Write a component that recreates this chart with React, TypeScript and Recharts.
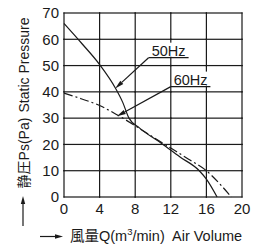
import { LineChart, Line, XAxis, YAxis, ReferenceLine } from 'recharts'

// air volume (m3/min) vs static pressure (Pa)
const flow50 = [0, 2, 4, 5.8, 6.6, 7.3, 8.5, 11, 13, 15.2, 16, 17.2]
const pressure50 = [66, 58.4, 50.4, 41.3, 36, 30, 26.2, 20.3, 15.3, 10, 6.8, 0]
const flow60 = [0, 2, 4, 6, 8, 10, 12, 14, 16, 17.5, 18.8]
const pressure60 = [39.5, 37.3, 34.8, 31.2, 27.1, 22.8, 18.6, 14.4, 10, 5, 0]

const xTicks = [0, 4, 8, 12, 16, 20]
const yTicks = [0, 10, 20, 30, 40, 50, 60, 70]

// callouts: label, underline start/end flow, underline pressure, arrow tip
const calloutNames = ['50Hz', '60Hz']
const calloutFrom = [9.5, 12]
const calloutTo = [14, 16.45]
const calloutLevel = [53, 42]
const calloutTipFlow = [5.75, 5.94]
const calloutTipPressure = [41.3, 30.7]

const font = '"Liberation Sans", "Noto Sans CJK JP", sans-serif'
const ink = '#1a1a1a'

const data50 = flow50.map((q, i) => ({ q, p: pressure50[i] }))
const data60 = flow60.map((q, i) => ({ q, p: pressure60[i] }))

// two inner grid points, the shape extends the scale from them
const gridA = { x: xTicks[1], y: yTicks[1] }
const gridB = { x: xTicks[4], y: yTicks[6] }

// grid as short filled bars, one per cell edge
const GridShape = (props: any) => {
  const { x1, y1, x2, y2 } = props
  const gx = (v: number) => x1 + ((v - gridA.x) * (x2 - x1)) / (gridB.x - gridA.x)
  const gy = (v: number) => y1 + ((v - gridA.y) * (y2 - y1)) / (gridB.y - gridA.y)
  const w = 1.2
  const bars: any[] = []
  xTicks.forEach((t) => {
    yTicks.slice(1).forEach((b, j) => {
      const ya = gy(yTicks[j])
      const yb = gy(b)
      bars.push(
        <rect key={`v${t}-${b}`} x={gx(t) - w / 2} y={Math.min(ya, yb) - w / 2} width={w} height={Math.abs(ya - yb) + w} fill={ink} />
      )
    })
  })
  yTicks.forEach((t) => {
    xTicks.slice(1).forEach((b, j) => {
      const xa = gx(xTicks[j])
      const xb = gx(b)
      bars.push(
        <rect key={`h${t}-${b}`} x={Math.min(xa, xb) - w / 2} y={gy(t) - w / 2} width={Math.abs(xb - xa) + w} height={w} fill={ink} />
      )
    })
  })
  return <g>{bars}</g>
}

const Underline = (label: string) => (props: any) => {
  const { x1, y1, x2 } = props
  const mid = (x1 + x2) / 2
  return (
    <g>
      <rect x={mid - 18} y={y1 - 15} width={36} height={14} fill="#fff" />
      <line x1={x1} y1={y1} x2={x2} y2={y1} stroke={ink} strokeWidth={1.2} />
      <text x={mid} y={y1 - 2} textAnchor="middle" fontSize={14.5} fontFamily={font} fill={ink}>
        {label}
      </text>
    </g>
  )
}

const Leader = (props: any) => {
  const { x1, y1, x2, y2 } = props
  const len = Math.hypot(x2 - x1, y2 - y1)
  const ux = (x2 - x1) / len
  const uy = (y2 - y1) / len
  const bx = x2 - ux * 9
  const by = y2 - uy * 9
  return (
    <g>
      <line x1={x1} y1={y1} x2={bx} y2={by} stroke={ink} strokeWidth={1.2} />
      <polygon
        points={`${x2},${y2} ${bx - uy * 2.2},${by + ux * 2.2} ${bx + uy * 2.2},${by - ux * 2.2}`}
        fill={ink}
      />
    </g>
  )
}

export default function App() {
  return (
    <div style={{ position: 'absolute', left: 0, top: 0, width: 254, height: 244, background: '#fff' }}>
      <LineChart width={254} height={244} margin={{ top: 13, right: 12, bottom: 0, left: 0 }}>
        <XAxis
          type="number"
          dataKey="q"
          domain={[0, 20]}
          ticks={xTicks}
          interval={0}
          height={47}
          axisLine={false}
          tickLine={false}
          tickSize={0}
          tickMargin={6}
          tick={{ fill: ink, fontSize: 15, fontFamily: font }}
        />
        <YAxis
          type="number"
          domain={[0, 70]}
          ticks={yTicks}
          interval={0}
          width={64}
          axisLine={false}
          tickLine={false}
          tickSize={0}
          tickMargin={5}
          tick={{ fill: ink, fontSize: 15, fontFamily: font }}
        />
        <Line data={data50} dataKey="p" type="monotone" stroke={ink} strokeWidth={1.2} dot={false} isAnimationActive={false} />
        <Line
          data={data60}
          dataKey="p"
          type="monotone"
          stroke={ink}
          strokeWidth={1.2}
          strokeDasharray="9 3 2 3"
          dot={false}
          isAnimationActive={false}
        />
        <ReferenceLine segment={[gridA, gridB]} shape={GridShape} />
        {calloutNames.map((name, i) => (
          <ReferenceLine
            key={'u' + name}
            segment={[
              { x: calloutFrom[i], y: calloutLevel[i] },
              { x: calloutTo[i], y: calloutLevel[i] },
            ]}
            shape={Underline(name)}
          />
        ))}
        {calloutNames.map((name, i) => (
          <ReferenceLine
            key={'l' + name}
            segment={[
              { x: calloutFrom[i], y: calloutLevel[i] },
              { x: calloutTipFlow[i], y: calloutTipPressure[i] },
            ]}
            shape={Leader}
          />
        ))}
      </LineChart>
      <svg width={254} height={244} style={{ position: 'absolute', left: 0, top: 0, pointerEvents: 'none' }}>
        <text x={29} y={65} transform="rotate(-90 29 65)" textAnchor="middle" fontSize={14} fontFamily={font} fill={ink}>
          Static Pressure
        </text>
        <text x={29} y={153} transform="rotate(-90 29 153)" textAnchor="middle" fontSize={14} fontFamily={font} fill={ink}>
          静圧Ps(Pa)
        </text>
        <line x1={23} y1={226} x2={23} y2={203} stroke={ink} strokeWidth={1.2} />
        <polygon points="23,196 20.8,204 25.2,204" fill={ink} />
        <line x1={40} y1={236.5} x2={56} y2={236.5} stroke={ink} strokeWidth={1.2} />
        <polygon points="63,236.5 55,234.3 55,238.7" fill={ink} />
        <text x={70} y={241} fontSize={14.5} fontFamily={font} fill={ink}>
          風量Q(m<tspan fontSize={9.5} dy={-6}>3</tspan>
          <tspan dy={6}>/min)</tspan>
        </text>
        <text x={172} y={241} fontSize={14.5} fontFamily={font} fill={ink}>
          Air Volume
        </text>
      </svg>
    </div>
  )
}
